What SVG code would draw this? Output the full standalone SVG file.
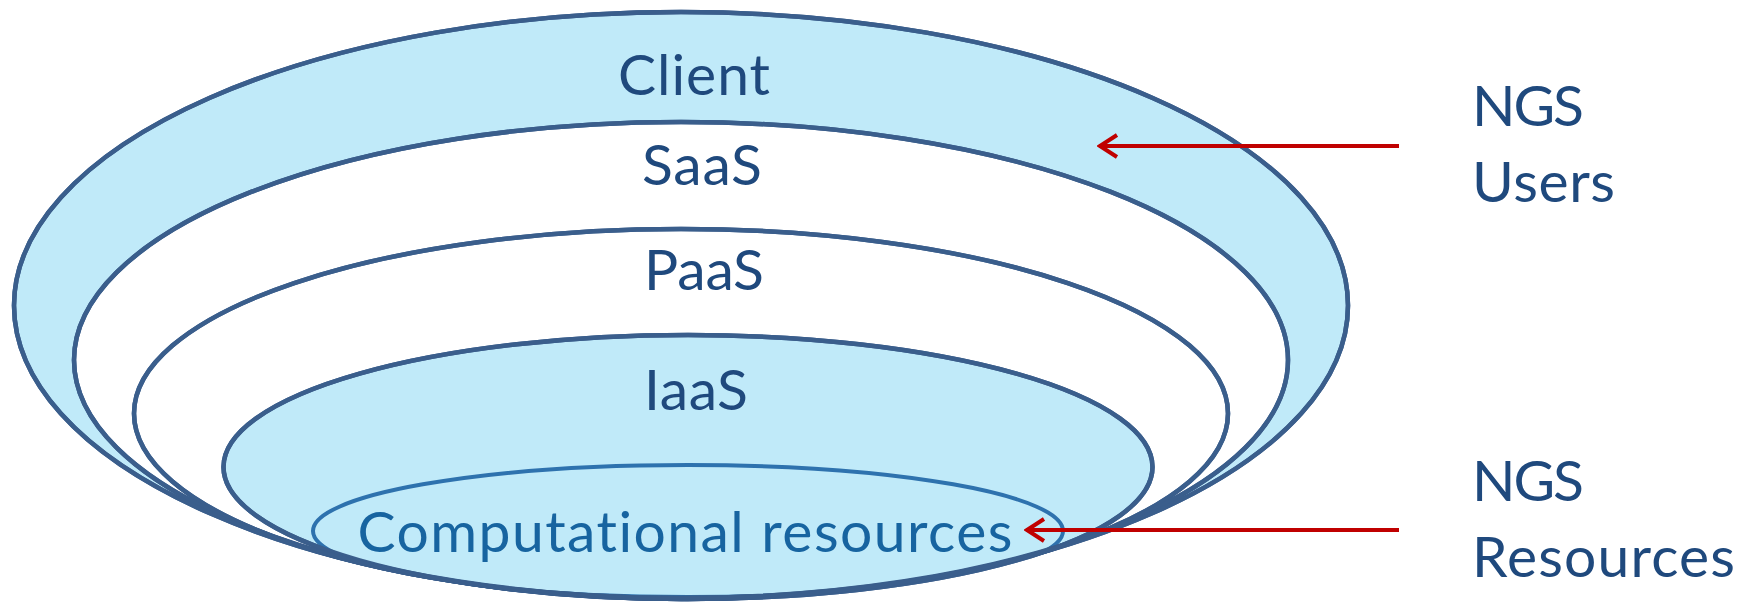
<svg xmlns="http://www.w3.org/2000/svg" width="1754" height="604" viewBox="0 0 1754 604">
<defs>
<style>
.ring{stroke:#3A5E8C;stroke-width:4.5}
.blue{fill:#C0EAF9}
.white{fill:#FFFFFF}
.outline{fill:none;stroke:#3A5E8C;stroke-width:4.5}
text{font-family:Lato,"Open Sans",sans-serif;font-size:57px;font-variant-ligatures:none}
.lbl{fill:#1F497D;text-anchor:middle}
.side{fill:#1F497D}
.comp{fill:#1764A0;text-anchor:middle}
.arrow{stroke:#C00000;stroke-width:4;fill:none}
</style>
<clipPath id="outerClip">
<ellipse cx="681" cy="305.5" rx="667" ry="293.5"/>
</clipPath>
<marker id="chev" viewBox="0 0 22 26" refX="20" refY="13" markerWidth="22" markerHeight="26" markerUnits="userSpaceOnUse" orient="auto">
<path d="M2,2 L19,13 L2,24" fill="none" stroke="#C00000" stroke-width="4"/>
</marker>
</defs>
<g id="client">
<ellipse class="ring blue" cx="681" cy="305.5" rx="667" ry="293.5"/>
<text class="lbl" x="694" y="95" textLength="152">Client</text>
</g>
<g id="saas">
<ellipse class="ring white" cx="681" cy="360" rx="607" ry="238"/>
<text class="lbl" x="702" y="185" textLength="120">SaaS</text>
</g>
<g id="paas">
<ellipse class="ring white" cx="681" cy="413.5" rx="547" ry="184.5"/>
<text class="lbl" x="704" y="290" textLength="120">PaaS</text>
</g>
<g id="iaas">
<ellipse class="ring blue" cx="688" cy="467" rx="464.5" ry="132"/>
<text class="lbl" x="696" y="410" textLength="104">IaaS</text>
</g>
<g id="computational" clip-path="url(#outerClip)">
<ellipse cx="688" cy="531" rx="375" ry="66" fill="#C0EAF9" stroke="#2E72AE" stroke-width="4"/>
</g>
<g id="outlines">
<ellipse class="outline" cx="688" cy="467" rx="464.5" ry="132"/>
<ellipse class="outline" cx="681" cy="413.5" rx="547" ry="184.5"/>
<ellipse class="outline" cx="681" cy="360" rx="607" ry="238"/>
<ellipse class="outline" cx="681" cy="305.5" rx="667" ry="293.5"/>
</g>
<text class="comp" x="685" y="552" textLength="655">Computational resources</text>
<g id="ngs-users">
<text class="side" x="1472" y="126" textLength="112">NGS</text>
<text class="side" x="1472" y="202" textLength="143">Users</text>
</g>
<g id="ngs-resources">
<text class="side" x="1472" y="501" textLength="112">NGS</text>
<text class="side" x="1472" y="577" textLength="263">Resources</text>
</g>
<g id="connectors">
<line class="arrow" x1="1399" y1="146" x2="1099" y2="146" marker-end="url(#chev)"/>
<line class="arrow" x1="1399" y1="530" x2="1026" y2="530" marker-end="url(#chev)"/>
</g>
</svg>
